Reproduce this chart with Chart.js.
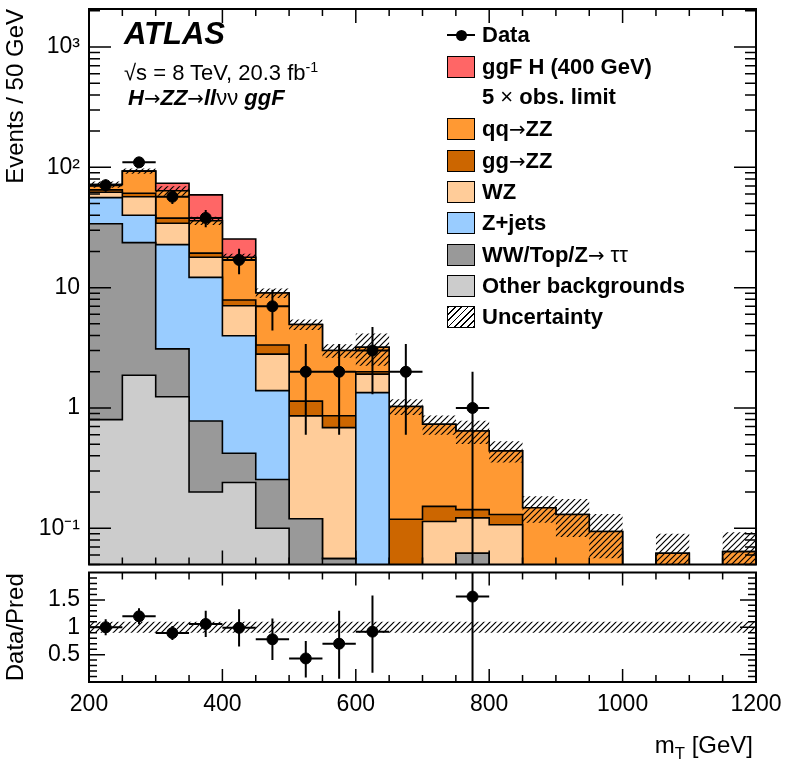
<!DOCTYPE html>
<html>
<head>
<meta charset="utf-8">
<script src="https://cdn.jsdelivr.net/npm/chart.js@4.4.0/dist/chart.umd.min.js"></script>
<style>
  body { margin: 0; background: #fff; font-family: "Liberation Sans", Arial, sans-serif; color: #000; }
  #wrap { position: relative; width: 786px; height: 766px; overflow: hidden; }
  canvas { position: absolute; left: 0; }
  #mainCanvas { top: 0; }
  #ratioCanvas { top: 566px; }
  .t { position: absolute; white-space: nowrap; line-height: 1; }
  .lt { position: absolute; left: 482px; font-weight: bold; font-size: 22px; line-height: 22px; white-space: nowrap; }
  .n { font-weight: normal; }
  .ar { font-weight: normal; font-style: normal; font-family: "DejaVu Sans", sans-serif; font-size: 90%; }
  .box { position: absolute; left: 447px; width: 28px; height: 22px; box-sizing: border-box; border: 1.5px solid #000; }
  sup { font-size: 65%; vertical-align: 0.55em; line-height: 0; }
  sub { font-size: 70%; vertical-align: -0.35em; line-height: 0; }
</style>
</head>
<body>
<div id="wrap">
  <canvas id="mainCanvas" width="786" height="571"></canvas>
  <canvas id="ratioCanvas" width="786" height="200"></canvas>

  <div class="t" style="left:124px;top:18px;font-size:31px;font-weight:bold;font-style:italic;">ATLAS</div>
  <div class="t" style="left:124px;top:62px;font-size:22px;">&radic;s = 8 TeV, 20.3 fb<sup>-1</sup></div>
  <div class="t" style="left:128px;top:87px;font-size:22px;"><b><i>H</i></b><span class="ar">&rarr;</span><b><i>ZZ</i></b><span class="ar">&rarr;</span><b><i>ll</i></b>&nu;&nu; <b><i>ggF</i></b></div>

  <div style="position:absolute;left:447px;top:34px;width:28px;height:2px;background:#000;"></div>
  <div style="position:absolute;left:456px;top:30px;width:11px;height:11px;border-radius:50%;background:#000;"></div>
  <div class="lt" style="top:24px;">Data</div>

  <div class="box" style="top:56px;background:#ff6666;"></div>
  <div class="lt" style="top:56px;">ggF H (400 GeV)</div>
  <div class="lt" style="top:86px;">5 <span class="n">&times;</span> obs. limit</div>

  <div class="box" style="top:118px;background:#ff9933;"></div>
  <div class="lt" style="top:118px;">qq<span class="ar">&rarr;</span>ZZ</div>

  <div class="box" style="top:150px;background:#cc6600;"></div>
  <div class="lt" style="top:150px;">gg<span class="ar">&rarr;</span>ZZ</div>

  <div class="box" style="top:181px;background:#ffcc99;"></div>
  <div class="lt" style="top:181px;">WZ</div>

  <div class="box" style="top:212px;background:#99ccff;"></div>
  <div class="lt" style="top:212px;">Z+jets</div>

  <div class="box" style="top:244px;background:#999999;"></div>
  <div class="lt" style="top:244px;">WW/Top/Z<span class="ar">&rarr;</span><span class="n"> &tau;&tau;</span></div>

  <div class="box" style="top:275px;background:#cccccc;"></div>
  <div class="lt" style="top:275px;">Other backgrounds</div>

  <div class="box" style="top:306px;background:repeating-linear-gradient(135deg,#000 0 1.3px,#fff 1.3px 4.5px);"></div>
  <div class="lt" style="top:306px;">Uncertainty</div>

  <div class="t" style="right:33px;top:733px;font-size:24px;">m<sub>T</sub> [GeV]</div>
</div>

<script>
// bins (lower edges), 50 GeV wide
const binLow = [200, 250, 300, 350, 400, 450, 500, 550, 600, 650, 700, 750, 800, 850, 900, 950, 1000, 1050, 1100, 1150];
const binWidth = 50;

// stacked backgrounds, bottom to top
const otherBkg = [0.80, 1.87, 1.24, 0.20, 0.24, 0.10, 0, 0, 0, 0, 0, 0, 0, 0, 0, 0, 0, 0, 0, 0];
const wwTopZtt = [33.2, 21.8, 1.86, 0.58, 0.18, 0.154, 0.12, 0.056, 0, 0, 0, 0.062, 0, 0, 0, 0, 0, 0, 0, 0];
const zJets    = [22, 16.3, 19.7, 11.4, 3.56, 1.14, 0, 0, 1.34, 0, 0, 0, 0, 0, 0, 0, 0, 0, 0, 0];
const wzBkg    = [6, 17, 11.5, 5.7, 3.1, 1.41, 0.74, 0.63, 0.57, 0, 0.114, 0.06, 0.107, 0, 0, 0, 0, 0, 0, 0];
const ggZZ     = [3, 4, 3.5, 1.5, 0.82, 0.53, 0.28, 0.175, 0.09, 0.119, 0.038, 0.021, 0.023, 0, 0, 0, 0, 0, 0, 0];
const qqZZ     = [7, 32, 26, 16.6, 10, 5.7, 3.8, 2.14, 1.2, 0.91, 0.58, 0.5, 0.31, 0.148, 0.13, 0.094, 0, 0.062, 0, 0.064];
const ggfH400  = [0, 0, 10, 23, 7.5, 0, 0, 0, 0, 0, 0, 0, 0, 0, 0, 0, 0, 0, 0, 0];

// relative background uncertainty
const bkgUncRel = [0.06, 0.05, 0.09, 0.08, 0.07, 0.09, 0.10, 0.13, 0.30, 0.15, 0.18, 0.22, 0.20, 0.25, 0.35, 0.40, 0, 0.45, 0, 0.45];

// data
const dataObs = [71, 110, 57, 38, 17, 7, 2, 2, 3, 2, 0, 1, 0, 0, 0, 0, 0, 0, 0, 0];
const dataErr = [8.4, 10.5, 7.5, 6.2, 4.1, 2.6, 1.4, 1.4, 1.7, 1.4, 0, 1, 0, 0, 0, 0, 0, 0, 0, 0];

// ratio panel
const ratioVal   = [1.00, 1.20, 0.895, 1.06, 0.99, 0.78, 0.43, 0.70, 0.92, null, null, 1.56, null, null, null, null, null, null, null, null];
const ratioErrUp = [0.146, 0.146, 0.13, 0.24, 0.34, 0.38, 0.32, 0.60, 0.66, 0, 0, 1.6, 0, 0, 0, 0, 0, 0, 0, 0];
const ratioErrDn = [0.146, 0.146, 0.13, 0.24, 0.34, 0.38, 0.35, 0.64, 0.75, 0, 0, 1.56, 0, 0, 0, 0, 0, 0, 0, 0];
const ratioUnc   = [0.1, 0.1, 0.1, 0.1, 0.1, 0.1, 0.1, 0.1, 0.1, 0.1, 0.1, 0.1, 0.1, 0.1, 0.1, 0.1, 0.1, 0.1, 0.1, 0.1];

// axis ticks
const xTicks = [200, 400, 600, 800, 1000, 1200];
const yTicks = [0.1, 1, 10, 100, 1000];
const yTickLabels = ['10\u207B\u00B9', '1', '10', '10\u00B2', '10\u00B3'];
const ratioTicks = [0.5, 1, 1.5];
const ratioTickLabels = ['0.5', '1', '1.5'];

const compColors = ['#cccccc', '#999999', '#99ccff', '#ffcc99', '#cc6600', '#ff9933', '#ff6666'];

Chart.defaults.font.family = '"Liberation Sans", Arial, sans-serif';
Chart.defaults.color = '#000';

const floorVal = 1e-3;

function stepPoints(vals) {
  const pts = binLow.map((x, i) => ({x: x, y: Math.max(vals[i], floorVal)}));
  pts.push({x: binLow[binLow.length - 1] + binWidth, y: pts[pts.length - 1].y});
  return pts;
}

function hatchPattern() {
  const c = document.createElement('canvas');
  c.width = 6; c.height = 6;
  const g = c.getContext('2d');
  g.strokeStyle = '#000';
  g.lineWidth = 1.2;
  g.beginPath();
  g.moveTo(0, 6); g.lineTo(6, 0);
  g.moveTo(-1, 1); g.lineTo(1, -1);
  g.moveTo(5, 7); g.lineTo(7, 5);
  g.stroke();
  return g.createPattern(c, 'repeat');
}

// points + error bars (gaps made with null y)
function markerPoints(vals) {
  return binLow.map((x, i) => ({x: x + binWidth / 2, y: vals[i] ? vals[i] : null}));
}
function errorSegments(vals, up, dn) {
  const pts = [];
  binLow.forEach((x, i) => {
    if (!vals[i]) return;
    const c = x + binWidth / 2;
    pts.push({x: x, y: vals[i]}, {x: x + binWidth, y: vals[i]}, {x: x + binWidth, y: null});
    pts.push({x: c, y: Math.max(vals[i] - dn[i], floorVal)}, {x: c, y: vals[i] + up[i]}, {x: c, y: null});
  });
  return pts;
}

// fixed axis box, no label overflow padding
function fixY(s) { s.width = 89; s.paddingTop = 0; s.paddingBottom = 0; }
function fixX(s) { s.height = 84; s.paddingLeft = 0; s.paddingRight = 0; }

// frame + inside ticks on all four sides
function frameTicks(cfg) {
  return {
    id: 'frameTicks',
    afterDatasetsDraw(chart) {
      const {ctx, chartArea: a} = chart;
      const xs = chart.scales.x, ys = chart.scales.y;
      ctx.save();
      ctx.strokeStyle = '#000';
      ctx.lineWidth = 1.5;
      ctx.beginPath();
      for (let v = 200; v <= 1200; v += 50) {
        const px = xs.getPixelForValue(v);
        const len = xTicks.includes(v) ? cfg.xMaj : cfg.xMin;
        ctx.moveTo(px, a.bottom); ctx.lineTo(px, a.bottom - len);
        ctx.moveTo(px, a.top); ctx.lineTo(px, a.top + len);
      }
      cfg.yMarks.forEach(m => {
        const py = ys.getPixelForValue(m.v);
        if (py < a.top || py > a.bottom) return;
        ctx.moveTo(a.left, py); ctx.lineTo(a.left + m.len, py);
        ctx.moveTo(a.right, py); ctx.lineTo(a.right - m.len, py);
      });
      ctx.stroke();
      ctx.lineWidth = 2;
      ctx.strokeRect(a.left, a.top, a.right - a.left, a.bottom - a.top);
      ctx.restore();
    }
  };
}

// ---------- main panel ----------
let running = binLow.map(() => 0);
const comps = [otherBkg, wwTopZtt, zJets, wzBkg, ggZZ, qqZZ, ggfH400];
const cumul = comps.map(c => (running = running.map((v, i) => v + c[i])));
const bkgTotal = cumul[5];
const uncHi = bkgTotal.map((v, i) => v * (1 + bkgUncRel[i]));
const uncLo = bkgTotal.map((v, i) => v * (1 - bkgUncRel[i]));

const hatch = hatchPattern();

const stackSets = cumul.map((vals, k) => ({
  data: stepPoints(vals),
  stepped: true,
  fill: 'start',
  backgroundColor: compColors[k],
  borderColor: '#000',
  borderWidth: 1.6,
  pointRadius: 0,
  order: 10 + k
}));

const mainYMarks = [];
for (let d = -2; d <= 3; d++) {
  for (let k = 1; k <= 9; k++) {
    mainYMarks.push({v: k * Math.pow(10, d), len: k === 1 ? 22 : 11});
  }
}

new Chart(document.getElementById('mainCanvas'), {
  type: 'line',
  data: {
    datasets: [
      {data: markerPoints(dataObs), showLine: false, pointRadius: 5.5, pointBackgroundColor: '#000', pointBorderColor: '#000', order: 0},
      {data: errorSegments(dataObs, dataErr, dataErr), borderColor: '#000', borderWidth: 2, pointRadius: 0, spanGaps: false, order: 1},
      {data: stepPoints(uncHi), stepped: true, fill: '+1', backgroundColor: hatch, borderColor: 'rgba(0,0,0,0)', borderWidth: 0, pointRadius: 0, order: 2},
      {data: stepPoints(uncLo), stepped: true, fill: false, borderColor: 'rgba(0,0,0,0)', borderWidth: 0, pointRadius: 0, order: 3},
      ...stackSets
    ]
  },
  options: {
    responsive: false,
    animation: false,
    devicePixelRatio: 1,
    layout: {padding: {top: 9, right: 30, bottom: 3, left: 0}},
    plugins: {legend: {display: false}, tooltip: {enabled: false}},
    scales: {
      x: {type: 'linear', min: 200, max: 1200, display: false},
      y: {
        type: 'logarithmic', min: 0.05, max: 2070,
        afterFit: fixY,
        afterBuildTicks(s) { s.ticks = yTicks.map(v => ({value: v})); },
        grid: {display: false, drawTicks: false},
        border: {display: false},
        ticks: {font: {size: 23}, color: '#000', padding: 9, callback: (v, i) => yTickLabels[i]},
        title: {display: true, text: 'Events / 50 GeV', align: 'end', font: {size: 24}, color: '#000', padding: {top: 2, bottom: 0}}
      }
    }
  },
  plugins: [frameTicks({xMaj: 14, xMin: 7, yMarks: mainYMarks})]
});

// ---------- ratio panel ----------
const ratioYMarks = [];
for (let k = 1; k <= 19; k++) {
  ratioYMarks.push({v: k / 10, len: k % 5 === 0 ? 16 : 8});
}

new Chart(document.getElementById('ratioCanvas'), {
  type: 'line',
  data: {
    datasets: [
      {data: markerPoints(ratioVal), showLine: false, pointRadius: 5.5, pointBackgroundColor: '#000', pointBorderColor: '#000', order: 0},
      {data: errorSegments(ratioVal, ratioErrUp, ratioErrDn), borderColor: '#000', borderWidth: 2, pointRadius: 0, spanGaps: false, order: 1},
      {data: stepPoints(ratioUnc.map(u => 1 + u)), stepped: true, fill: '+1', backgroundColor: hatch, borderColor: 'rgba(0,0,0,0)', borderWidth: 0, pointRadius: 0, order: 2},
      {data: stepPoints(ratioUnc.map(u => 1 - u)), stepped: true, fill: false, borderColor: 'rgba(0,0,0,0)', borderWidth: 0, pointRadius: 0, order: 3}
    ]
  },
  options: {
    responsive: false,
    animation: false,
    devicePixelRatio: 1,
    layout: {padding: {top: 4, right: 30, bottom: 0, left: 0}},
    plugins: {legend: {display: false}, tooltip: {enabled: false}},
    scales: {
      x: {
        type: 'linear', min: 200, max: 1200,
        afterFit: fixX,
        afterBuildTicks(s) { s.ticks = xTicks.map(v => ({value: v})); },
        grid: {display: false, drawTicks: false},
        border: {display: false},
        ticks: {font: {size: 23}, color: '#000', padding: 9, maxRotation: 0, autoSkip: false, callback: (v, i) => String(xTicks[i])}
      },
      y: {
        type: 'linear', min: 0, max: 2,
        afterFit: fixY,
        afterBuildTicks(s) { s.ticks = ratioTicks.map(v => ({value: v})); },
        grid: {display: false, drawTicks: false},
        border: {display: false},
        ticks: {font: {size: 23}, color: '#000', padding: 9, callback: (v, i) => ratioTickLabels[i]},
        title: {display: true, text: 'Data/Pred', align: 'center', font: {size: 24}, color: '#000', padding: {top: 2, bottom: 0}}
      }
    }
  },
  plugins: [frameTicks({xMaj: 13, xMin: 7, yMarks: ratioYMarks})]
});
</script>
</body>
</html>
